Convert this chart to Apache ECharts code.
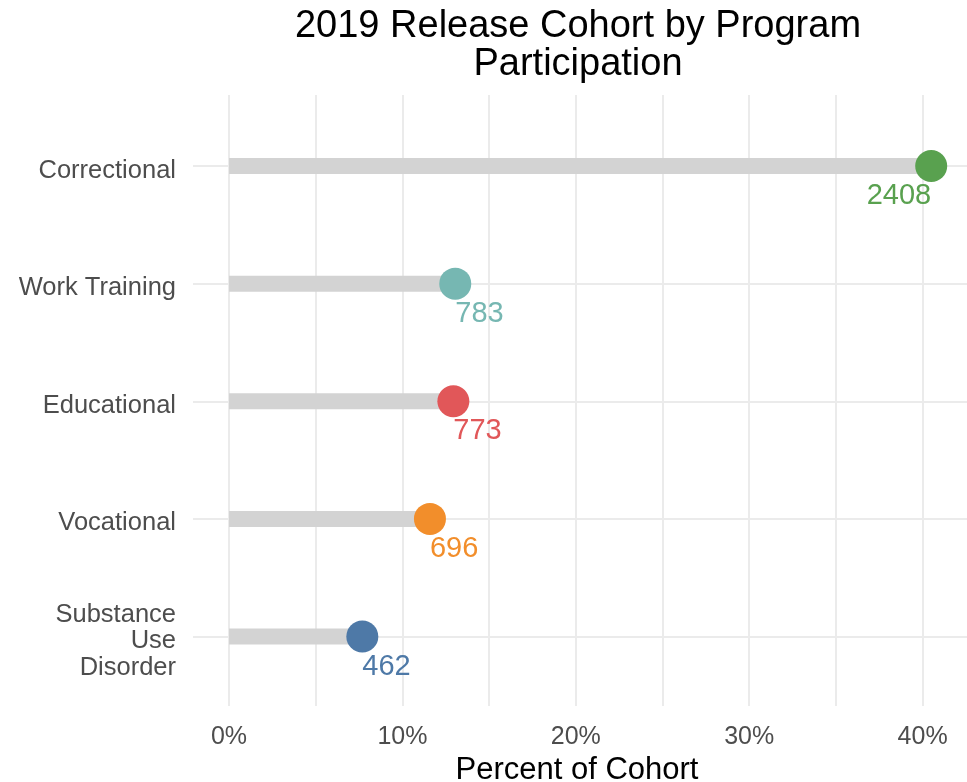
<!DOCTYPE html>
<html>
<head>
<meta charset="utf-8">
<title>2019 Release Cohort by Program Participation</title>
<script src="https://cdn.jsdelivr.net/npm/echarts@6/dist/echarts.min.js"></script>
<style>
  html, body {
    margin: 0;
    padding: 0;
    background: #ffffff;
  }
  #chart {
    width: 967px;
    height: 782px;
  }
</style>
</head>
<body>
<div id="chart"></div>
<script>
// programs, top to bottom
const programs = ["Correctional", "Work Training", "Educational", "Vocational", "Substance\nUse\nDisorder"];
// percent of cohort
const pctValues = [40.5, 13.05, 12.94, 11.59, 7.69];
// participant counts shown under each dot
const counts = [2408, 783, 773, 696, 462];
const dotColors = ["#59a14f", "#76b7b2", "#e15759", "#f28e2b", "#4e79a7"];
const xTicks = [0, 10, 20, 30, 40];

const font = "'Liberation Sans', Arial, sans-serif";
const gridColor = "#ebebeb";

let myChart = echarts.init(document.getElementById("chart"));

let option = {
  animation: false,
  backgroundColor: "#ffffff",
  title: [
    {
      text: "2019 Release Cohort by Program\nParticipation",
      left: 578,
      top: 8,
      textAlign: "center",
      padding: 0,
      textStyle: {
        fontFamily: font,
        fontSize: 38,
        fontWeight: "normal",
        color: "#000000",
        lineHeight: 38
      }
    },
    {
      text: "Percent of Cohort",
      left: 577,
      top: 755,
      textAlign: "center",
      padding: 0,
      textStyle: {
        fontFamily: font,
        fontSize: 31,
        fontWeight: "normal",
        color: "#000000"
      }
    }
  ],
  grid: [
    // data panel + horizontal grid lines
    { left: 193, width: 776, top: 166, bottom: 145.5, outerBoundsMode: "none", containLabel: false },
    // vertical grid lines + tick labels (45% falls off the canvas)
    { left: 229, width: 780.3, top: 95, bottom: 76, outerBoundsMode: "none", containLabel: false },
    // category labels, sitting a few px lower than the rows like the original
    { left: 193, width: 776, top: 170.5, bottom: 141, outerBoundsMode: "none", containLabel: false }
  ],
  xAxis: [
    {
      gridIndex: 0,
      type: "value",
      min: -2.076,
      max: 42.68,
      show: false
    },
    {
      gridIndex: 1,
      type: "value",
      min: 0,
      max: 45,
      interval: 5,
      axisLine: { show: false },
      axisTick: { show: false },
      axisLabel: {
        margin: 19,
        fontFamily: font,
        fontSize: 25,
        color: "#4d4d4d",
        formatter: function (v) {
          return xTicks.indexOf(v) >= 0 ? v + "%" : "";
        }
      },
      splitLine: {
        show: true,
        lineStyle: { color: gridColor, width: 2 }
      }
    },
    {
      gridIndex: 2,
      type: "value",
      show: false
    }
  ],
  yAxis: [
    {
      gridIndex: 0,
      type: "category",
      data: programs,
      inverse: true,
      boundaryGap: false,
      axisLine: { show: false },
      axisTick: { show: false },
      axisLabel: { show: false },
      splitLine: {
        show: true,
        lineStyle: { color: gridColor, width: 2 }
      }
    },
    {
      gridIndex: 1,
      type: "value",
      show: false,
      splitLine: { show: false }
    },
    {
      gridIndex: 2,
      type: "category",
      data: programs,
      inverse: true,
      boundaryGap: false,
      axisLine: { show: false },
      axisTick: { show: false },
      splitLine: { show: false },
      axisLabel: {
        margin: 17,
        fontFamily: font,
        fontSize: 25.5,
        lineHeight: 26.5,
        color: "#4d4d4d",
        align: "right"
      }
    }
  ],
  series: [
    {
      type: "bar",
      xAxisIndex: 0,
      yAxisIndex: 0,
      barWidth: 16,
      itemStyle: { color: "#d3d3d3" },
      data: pctValues,
      z: 2
    },
    {
      type: "scatter",
      xAxisIndex: 0,
      yAxisIndex: 0,
      symbol: "circle",
      symbolSize: 32,
      z: 3,
      data: pctValues.map(function (v, i) {
        return {
          value: [v, i],
          itemStyle: { color: dotColors[i], opacity: 1 },
          label: {
            show: true,
            position: "inside",
            align: i === 0 ? "right" : "left",
            verticalAlign: "middle",
            offset: [0, 30],
            formatter: String(counts[i]),
            fontFamily: font,
            fontSize: 29,
            color: dotColors[i]
          }
        };
      })
    }
  ]
};

myChart.setOption(option);
window.onresize = () => {
  myChart.resize();
};
</script>
</body>
</html>
